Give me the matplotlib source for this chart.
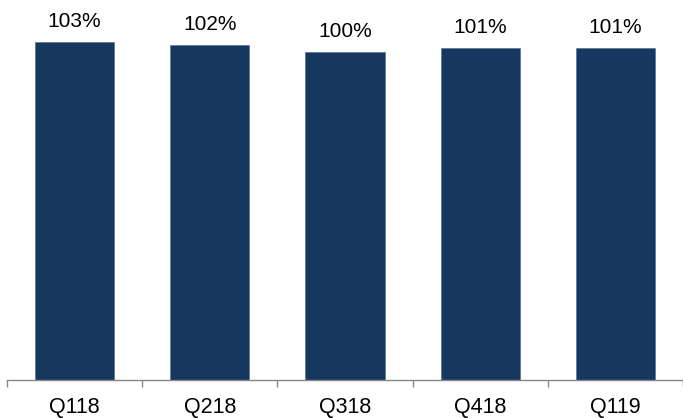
import numpy as np
import matplotlib.pyplot as plt

# Data
quarters = ['Q118', 'Q218', 'Q318', 'Q418', 'Q119']
values = [103.0, 102.1, 100.0, 101.3, 101.3]
value_labels = ['103%', '102%', '100%', '101%', '101%']

plt.rcParams['font.family'] = ['Liberation Sans', 'DejaVu Sans']

fig = plt.figure(figsize=(6.83, 4.18), dpi=100)
ax = fig.add_axes([7 / 683, 38 / 418, 676 / 683, 361 / 418])

x = np.arange(len(quarters))
ax.bar(x, values, width=0.585, color='#16385F', edgecolor='#4A6A8E', linewidth=0.4)

for xi, v, lab in zip(x, values, value_labels):
    ax.annotate(lab, (xi, v), xytext=(0, 15), textcoords='offset pixels',
                ha='center', va='baseline', fontsize=15, color='#000000')

ax.set_xlim(-0.5, len(quarters) - 0.5)
ax.set_ylim(0, 110)

# Category labels centred, tick marks between categories
ax.set_xticks(x)
ax.set_xticklabels(quarters, fontsize=15.5)
ax.tick_params(axis='x', which='major', length=0, pad=12)
ax.set_xticks(np.arange(-0.5, len(quarters)), minor=True)
ax.tick_params(axis='x', which='minor', length=5, width=1, color='#888888', direction='out')

ax.set_yticks([])
for side in ['top', 'right', 'left']:
    ax.spines[side].set_visible(False)
ax.spines['bottom'].set_color('#888888')
ax.spines['bottom'].set_linewidth(1)

fig.savefig('out.png', dpi=100)
